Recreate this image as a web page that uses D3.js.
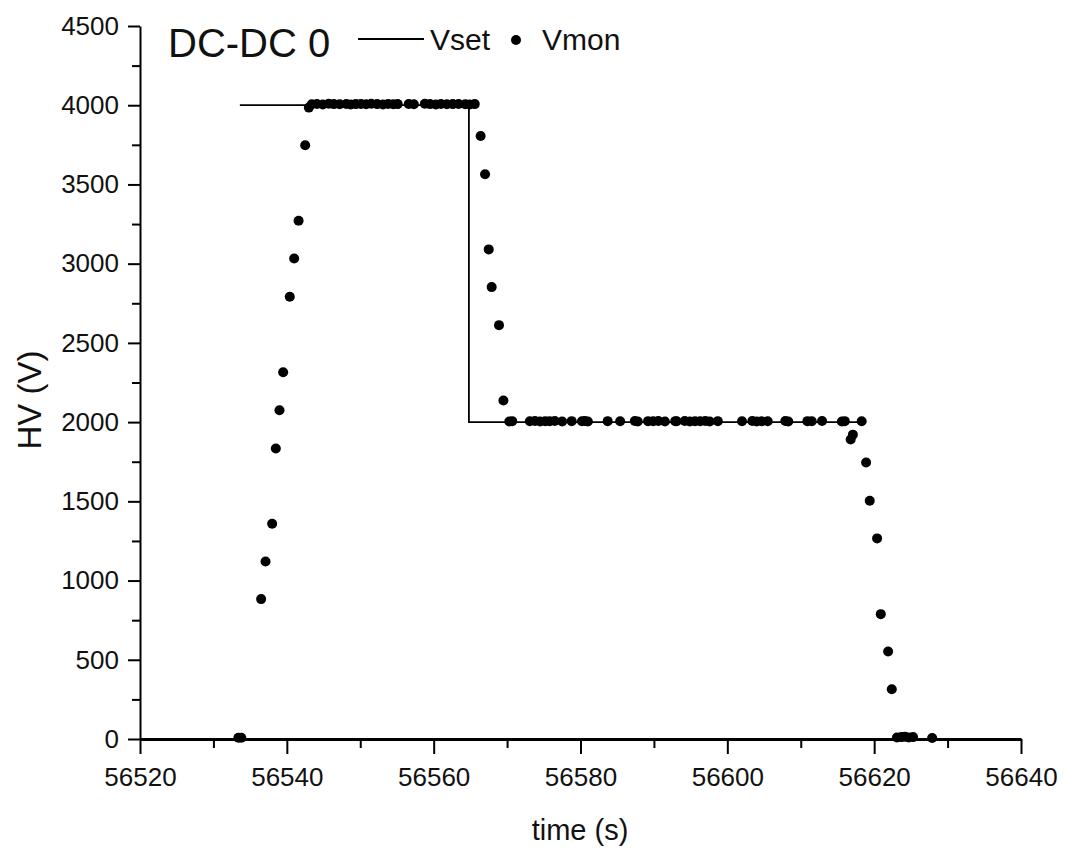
<!DOCTYPE html>
<html><head><meta charset="utf-8">
<script src="https://cdn.jsdelivr.net/npm/d3@7"></script>
<style>
html,body{margin:0;padding:0;background:#fff;}
svg{display:block;font-family:"Liberation Sans",Arial,sans-serif;}
</style></head>
<body><svg id="c" width="1066" height="852"></svg>
<script>
// ---- data ----
const xTicks = [56520, 56540, 56560, 56580, 56600, 56620, 56640];
const xMinor = [56530, 56550, 56570, 56590, 56610, 56630];
const yTicks = [0, 500, 1000, 1500, 2000, 2500, 3000, 3500, 4000, 4500];
const yMinor = [250, 750, 1250, 1750, 2250, 2750, 3250, 3750, 4250];

const vsetTime  = [56533.6, 56564.8, 56564.8, 56618.5];
const vsetValue = [4000, 4000, 2000, 2000];

const vmonTime = [
  56533.4, 56533.8,
  56536.5, 56537.1, 56538.0, 56538.5, 56539.0, 56539.5, 56540.4, 56541.0, 56541.6, 56542.5, 56543.0,
  56543.4, 56544.1, 56544.9, 56545.7, 56546.4, 56547.2, 56548.1, 56548.7, 56549.4, 56550.1,
  56550.8, 56551.5, 56552.3, 56553.1, 56553.8, 56554.5, 56555.1, 56556.6, 56557.3, 56558.8,
  56559.5, 56560.3, 56561.0, 56561.8, 56562.6, 56563.4, 56564.3, 56564.9, 56565.6,
  56566.4, 56567.0, 56567.5, 56567.9, 56568.9, 56569.5,
  56570.3, 56570.7, 56573.1, 56573.8, 56574.5, 56575.2, 56575.8, 56576.5, 56577.5, 56578.8,
  56580.2, 56580.6, 56581.0, 56583.7, 56585.4, 56587.4, 56587.8, 56589.2, 56589.9, 56590.6,
  56591.5, 56592.9, 56593.1, 56594.2, 56594.9, 56595.6, 56596.3, 56597.0, 56597.6, 56598.7,
  56602.0, 56603.4, 56604.0, 56604.7, 56605.5, 56607.9, 56608.3, 56610.9, 56611.5, 56612.9,
  56615.6, 56616.0, 56616.8, 56617.1, 56618.3,
  56618.9, 56619.4, 56620.4, 56620.9, 56621.9, 56622.4,
  56623.1, 56623.7, 56624.2, 56624.7, 56625.3, 56627.9
];
const vmonValue = [
  8, 8,
  883, 1120, 1359, 1834, 2075, 2315, 2791, 3033, 3271, 3747, 3985,
  4006, 4008, 4005, 4009, 4007, 4006, 4008, 4005, 4007, 4008,
  4006, 4009, 4007, 4005, 4008, 4006, 4007, 4008, 4006, 4009,
  4007, 4005, 4008, 4006, 4007, 4008, 4006, 4005, 4007,
  3806, 3564, 3090, 2852, 2612, 2136,
  2004, 2006, 2005, 2007, 2004, 2006, 2005, 2007, 2004, 2006,
  2005, 2007, 2004, 2006, 2005, 2007, 2004, 2006, 2005, 2007,
  2004, 2006, 2005, 2007, 2004, 2006, 2005, 2007, 2004, 2006,
  2005, 2007, 2004, 2006, 2005, 2007, 2004, 2006, 2005, 2007,
  2004, 2006, 1890, 1921, 2005,
  1745, 1504, 1266, 788, 552, 314,
  10, 12, 14, 10, 12, 6
];

// ---- layout ----
const svg = d3.select("#c");
const x = d3.scaleLinear().domain([56520, 56640]).range([140, 1021]);
const y = d3.scaleLinear().domain([0, 4500]).range([739, 26]);

// minor ticks
const gxm = svg.append("g").attr("transform", "translate(0,739)")
  .call(d3.axisBottom(x).tickValues(xMinor).tickSize(9).tickSizeOuter(0).tickFormat(""));
gxm.select(".domain").remove();
const gym = svg.append("g").attr("transform", "translate(140,0)")
  .call(d3.axisLeft(y).tickValues(yMinor).tickSize(8).tickSizeOuter(0).tickFormat(""));
gym.select(".domain").remove();

// major axes
const gx = svg.append("g").attr("transform", "translate(0,739)")
  .call(d3.axisBottom(x).tickValues(xTicks).tickSize(15).tickSizeOuter(0).tickPadding(14).tickFormat(d3.format("d")));
gx.select(".domain").attr("stroke-width", 3);
const gy = svg.append("g").attr("transform", "translate(140,0)")
  .call(d3.axisLeft(y).tickValues(yTicks).tickSize(12).tickSizeOuter(0).tickPadding(9).tickFormat(d3.format("d")));
gy.select(".domain").attr("stroke-width", 2);

svg.selectAll(".tick line").attr("stroke", "#000").attr("stroke-width", 2);
svg.selectAll(".tick text").attr("font-size", 26).attr("fill", "#111")
  .attr("font-family", "'Liberation Sans',Arial,sans-serif");

// Vset line
const line = d3.line().x(d => x(d[0])).y(d => y(d[1]));
svg.append("path")
  .datum(vsetTime.map((t, i) => [t, vsetValue[i]]))
  .attr("d", line).attr("fill", "none").attr("stroke", "#000").attr("stroke-width", 1.8);

// Vmon points
svg.append("g").selectAll("circle")
  .data(vmonTime.map((t, i) => [t, vmonValue[i]]))
  .join("circle")
  .attr("cx", d => x(d[0])).attr("cy", d => y(d[1])).attr("r", 5).attr("fill", "#000");

// axis titles
svg.append("text").attr("x", 580).attr("y", 840).attr("text-anchor", "middle")
  .attr("font-size", 29).attr("fill", "#111").text("time (s)");
svg.append("text").attr("transform", "translate(41,400) rotate(-90)").attr("text-anchor", "middle")
  .attr("font-size", 33).attr("fill", "#111").text("HV (V)");

// title & legend
svg.append("text").attr("x", 168).attr("y", 57).attr("font-size", 40).attr("fill", "#111").text("DC-DC 0");
svg.append("line").attr("x1", 358).attr("x2", 424).attr("y1", 39).attr("y2", 39)
  .attr("stroke", "#000").attr("stroke-width", 1.8);
svg.append("text").attr("x", 430).attr("y", 50).attr("font-size", 30).attr("fill", "#111").text("Vset");
svg.append("circle").attr("cx", 516).attr("cy", 40).attr("r", 5).attr("fill", "#000");
svg.append("text").attr("x", 542).attr("y", 50).attr("font-size", 30).attr("fill", "#111").text("Vmon");
</script></body></html>
